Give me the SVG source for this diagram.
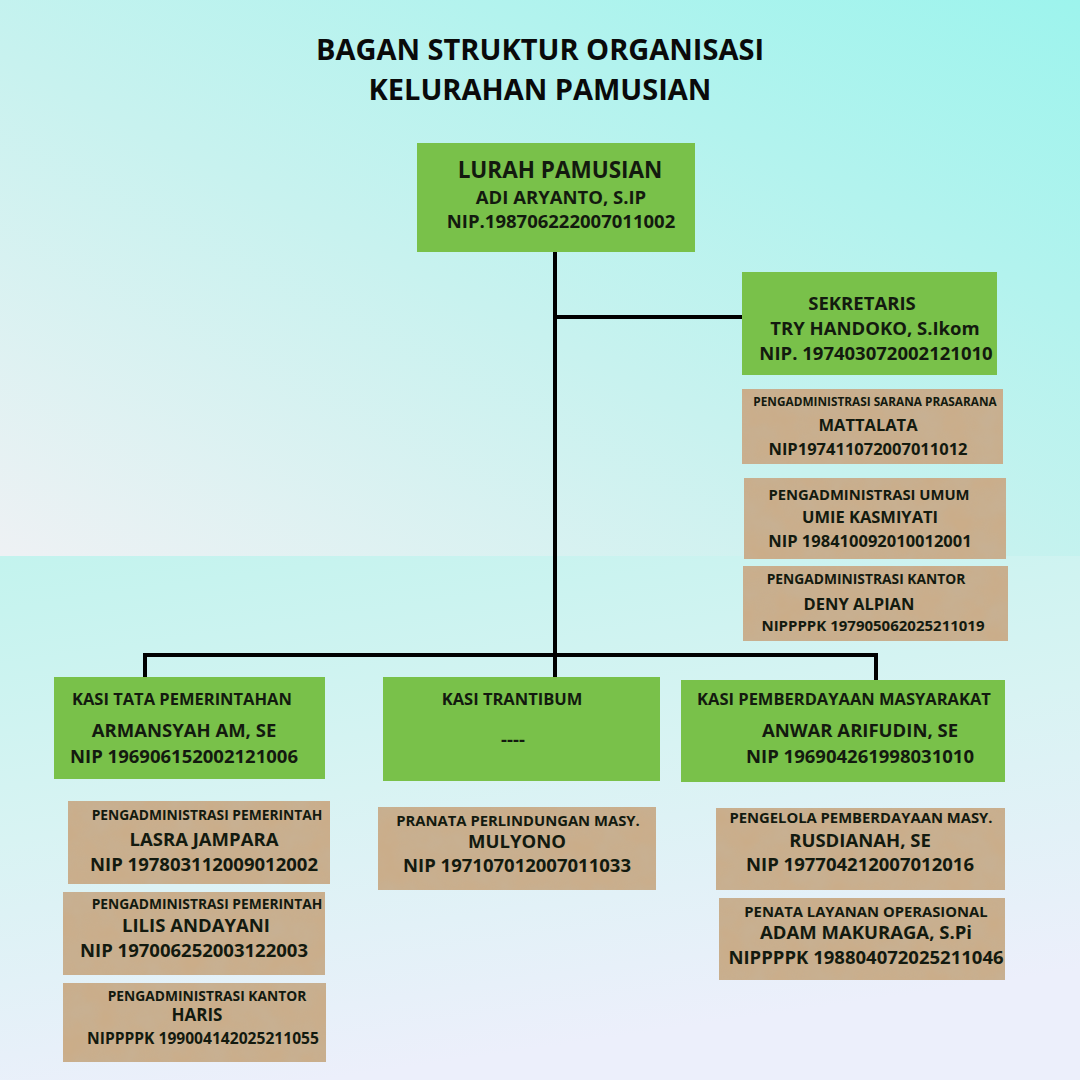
<svg xmlns="http://www.w3.org/2000/svg" width="1080" height="1080" viewBox="0 0 1080 1080">
<defs>
<linearGradient id="bgTop" x1="1" y1="0" x2="0" y2="1">
<stop offset="0" stop-color="#9df4ed"/>
<stop offset="0.55" stop-color="#c8f2ef"/>
<stop offset="1" stop-color="#eef1f4"/>
</linearGradient>
<linearGradient id="bgBot" x1="0" y1="0" x2="0.3" y2="1">
<stop offset="0" stop-color="#c3f3ee"/>
<stop offset="0.5" stop-color="#d8f3f3"/>
<stop offset="1" stop-color="#eceffb"/>
</linearGradient>
<filter id="paper" x="0" y="0" width="1" height="1">
<feTurbulence type="fractalNoise" baseFrequency="0.035" numOctaves="3" seed="3" result="n"/>
<feColorMatrix in="n" type="matrix" values="0 0 0 0 0.55  0 0 0 0 0.45  0 0 0 0 0.33  0 0 0 0.7 -0.1" result="c"/>
<feComposite in="c" in2="SourceGraphic" operator="in" result="t"/>
<feMerge><feMergeNode in="SourceGraphic"/><feMergeNode in="t"/></feMerge>
</filter>
<style>
.g{fill:#79c14a}
.b{fill:#cbad89;filter:url(#paper)}
text{font-family:"Open Sans","Liberation Sans",sans-serif;font-weight:700;fill:#131a0f;text-anchor:middle}
.t{font-size:29px;fill:#0a0a0a}
.h{font-size:22.5px}
.m{font-size:18.5px}
.s{font-size:16.5px}
.xs{font-size:13.8px}
.xs2{font-size:14.8px}
.xxs{font-size:11.8px}
.l{text-anchor:start}
.c{stroke:#000;stroke-width:4;fill:none}
</style>
</defs>
<rect x="0" y="0" width="1080" height="556" fill="url(#bgTop)"/>
<rect x="0" y="556" width="1080" height="524" fill="url(#bgBot)"/>
<g id="title">
<text class="t" x="540" y="60">BAGAN STRUKTUR ORGANISASI</text>
<text class="t" x="540" y="100">KELURAHAN PAMUSIAN</text>
</g>
<g id="connectors">
<path class="c" d="M555 252 V655"/>
<path class="c" d="M555 317 H742"/>
<path class="c" d="M145 679 V655 H876 V681"/>
<path class="c" d="M555 655 V677"/>
</g>
<g id="lurah">
<rect class="g" x="417" y="143" width="278" height="109"/>
<text class="h" x="560" y="178">LURAH PAMUSIAN</text>
<text class="m" x="561" y="204">ADI ARYANTO, S.IP</text>
<text class="m" x="561" y="228">NIP.198706222007011002</text>
</g>
<g id="sekretaris">
<rect class="g" x="742" y="272" width="255" height="103"/>
<text class="m" x="862" y="310">SEKRETARIS</text>
<text class="m" x="875" y="335">TRY HANDOKO, S.Ikom</text>
<text class="m" x="876" y="360">NIP. 197403072002121010</text>
</g>
<g id="sarpras">
<rect class="b" x="742" y="389" width="261" height="75"/>
<text class="xxs" x="875" y="406">PENGADMINISTRASI SARANA PRASARANA</text>
<text class="s" x="868" y="431">MATTALATA</text>
<text class="s" x="868" y="455">NIP197411072007011012</text>
</g>
<g id="umum">
<rect class="b" x="744" y="478" width="262" height="81"/>
<text class="xs2" x="869" y="500">PENGADMINISTRASI UMUM</text>
<text class="s" x="870" y="523">UMIE KASMIYATI</text>
<text class="s" x="870" y="547">NIP 198410092010012001</text>
</g>
<g id="kantor-sek">
<rect class="b" x="743" y="566" width="265" height="75"/>
<text class="xs" x="866" y="584">PENGADMINISTRASI KANTOR</text>
<text class="s" x="859" y="610">DENY ALPIAN</text>
<text style="font-size:15px" x="873" y="631">NIPPPPK 197905062025211019</text>
</g>
<g id="kasi-tapem">
<rect class="g" x="54" y="677" width="271" height="102"/>
<text class="s l" x="72" y="705">KASI TATA PEMERINTAHAN</text>
<text class="m" x="184" y="737">ARMANSYAH AM, SE</text>
<text class="m" x="184" y="763">NIP 196906152002121006</text>
</g>
<g id="kasi-trantibum">
<rect class="g" x="383" y="677" width="277" height="104"/>
<text class="s" x="512" y="705">KASI TRANTIBUM</text>
<text class="m" x="513" y="746">----</text>
</g>
<g id="kasi-pm">
<rect class="g" x="681" y="680" width="324" height="102"/>
<text class="s" x="844" y="705">KASI PEMBERDAYAAN MASYARAKAT</text>
<text class="m" x="860" y="737">ANWAR ARIFUDIN, SE</text>
<text class="m" x="860" y="763">NIP 196904261998031010</text>
</g>
<g id="lasra">
<rect class="b" x="68" y="801" width="262" height="83"/>
<text class="xs" x="207" y="820">PENGADMINISTRASI PEMERINTAH</text>
<text class="m" x="204" y="846">LASRA JAMPARA</text>
<text class="m" x="204" y="871">NIP 197803112009012002</text>
</g>
<g id="lilis">
<rect class="b" x="63" y="892" width="262" height="83"/>
<text class="xs" x="207" y="909">PENGADMINISTRASI PEMERINTAH</text>
<text class="m" x="196" y="932">LILIS ANDAYANI</text>
<text class="m" x="194" y="957">NIP 197006252003122003</text>
</g>
<g id="haris">
<rect class="b" x="63" y="983" width="263" height="79"/>
<text class="xs" x="207" y="1001">PENGADMINISTRASI KANTOR</text>
<text style="font-size:17px" x="197" y="1021">HARIS</text>
<text style="font-size:15.6px" x="203" y="1044">NIPPPPK 199004142025211055</text>
</g>
<g id="mulyono">
<rect class="b" x="378" y="807" width="278" height="83"/>
<text class="xs2" x="518" y="826">PRANATA PERLINDUNGAN MASY.</text>
<text class="m" x="517" y="848">MULYONO</text>
<text class="m" x="517" y="872">NIP 197107012007011033</text>
</g>
<g id="rusdianah">
<rect class="b" x="716" y="808" width="289" height="82"/>
<text class="xs2" x="861" y="823">PENGELOLA PEMBERDAYAAN MASY.</text>
<text class="m" x="860" y="847">RUSDIANAH, SE</text>
<text class="m" x="860" y="871">NIP 197704212007012016</text>
</g>
<g id="adam">
<rect class="b" x="719" y="898" width="286" height="82"/>
<text class="xs2" x="866" y="917">PENATA LAYANAN OPERASIONAL</text>
<text class="m" x="866" y="939">ADAM MAKURAGA, S.Pi</text>
<text class="m" x="866" y="964">NIPPPPK 198804072025211046</text>
</g>
</svg>
